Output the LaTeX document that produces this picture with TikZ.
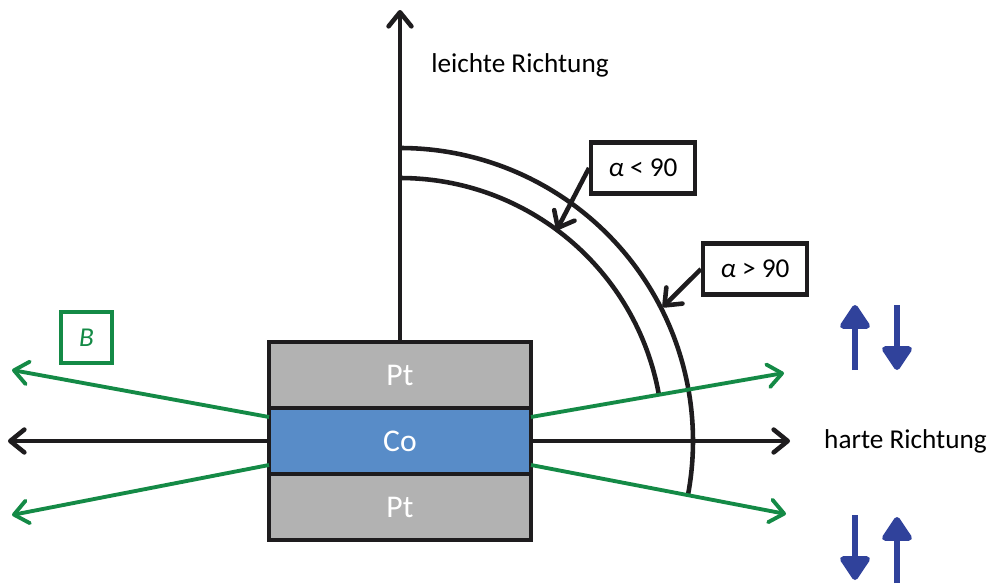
\documentclass[tikz,border=0pt]{standalone}
\usepackage{fontspec}
\setmainfont{Carlito}
\usetikzlibrary{positioning,arrows.meta}
\definecolor{ptgray}{RGB}{178,178,178}
\definecolor{coblue}{RGB}{88,140,200}
\definecolor{fieldgreen}{RGB}{20,138,70}
\definecolor{spinblue}{RGB}{48,66,155}
\definecolor{ink}{RGB}{30,28,30}

\begin{document}
\begin{tikzpicture}[x=0.02cm,y=0.02cm,
  font=\fontsize{15.5}{18}\selectfont,
  axis/.style={line width=2.6pt,draw=ink,-{Straight Barb[length=8pt,width=13pt,round]}},
  field/.style={line width=2.2pt,fieldgreen,-{Straight Barb[length=8pt,width=13pt,round]}},
  layer/.style={draw=ink,line width=2.3pt,fill=#1,text=white,font=\fontsize{18}{21}\selectfont,minimum width=5.24cm,minimum height=1.32cm,outer sep=0pt,inner sep=0pt},
  anglebox/.style={draw=ink,line width=2.3pt,minimum width=2.08cm,minimum height=1.02cm,inner sep=0pt,fill=white},
  spin/.style={line width=3.4pt,spinblue,-{Triangle[round,length=15pt,width=19pt]}}]
\useasboundingbox (0,0) rectangle (988,583);

% centre of the angle arcs and axis ends
\coordinate (O) at (400,142);
\coordinate (hL) at (8,142);
\coordinate (hR) at (790,142);
\coordinate (vTop) at (400,573);

% horizontal axis (behind the stack)
\draw[axis] (O) -- (hL);
\draw[axis] (O) -- (hR);

% angle arcs
\draw[ink,line width=2.6pt] ([shift={(90:263)}]O) arc[start angle=90,end angle=10,radius=263];
\draw[ink,line width=2.6pt] ([shift={(90:293)}]O) arc[start angle=90,end angle=-10.5,radius=293];

% Pt/Co/Pt stack
\node[layer=coblue] (co) at (400,142) {Co};
\node[layer=ptgray] (ptTop) [above=0pt of co] {Pt};
\node[layer=ptgray] (ptBot) [below=0pt of co] {Pt};

\draw[axis] (ptTop.north) -- (vTop);
\node (lblEasy) at (520,518) {leichte Richtung};
\node[anchor=west] (lblHard) at (818,142) {harte Richtung};

% field directions
\coordinate (gLU) at (12,213);
\coordinate (gLD) at (12,68);
\coordinate (gRU) at (784,210);
\coordinate (gRD) at (786,69);
\draw[field] ([yshift=0.48cm]co.west) -- (gLU);
\draw[field] ([yshift=-0.48cm]co.west) -- (gLD);
\draw[field] ([yshift=0.48cm]co.east) -- (gRU);
\draw[field] ([yshift=-0.48cm]co.east) -- (gRD);
\node[draw=fieldgreen,text=fieldgreen,line width=2.1pt,minimum size=1.02cm,inner sep=0pt] (bBox) at (86.5,245.5) {\textit{B}};

% angle labels
\coordinate (tipIn) at ([shift={(53.4:263)}]O);
\coordinate (tipOut) at ([shift={(27:295)}]O);
\node[anglebox] (ltBox) at (643,415) {\textit{α} < 90};
\node[anglebox] (gtBox) at (755,314) {\textit{α} > 90};
\draw[axis] (ltBox.west) -- (tipIn);
\draw[axis] (gtBox.west) -- (tipOut);

% spin pairs
\coordinate (upTa) at (855,213);
\coordinate (upTb) at (855,278);
\coordinate (dnTa) at (897,278);
\coordinate (dnTb) at (897,213);
\coordinate (dnBa) at (855,68);
\coordinate (dnBb) at (855,3);
\coordinate (upBa) at (897,0);
\coordinate (upBb) at (897,66);
\draw[spin] (upTa) -- (upTb);
\draw[spin] (dnTa) -- (dnTb);
\draw[spin] (dnBa) -- (dnBb);
\draw[spin] (upBa) -- (upBb);
\end{tikzpicture}
\end{document}
